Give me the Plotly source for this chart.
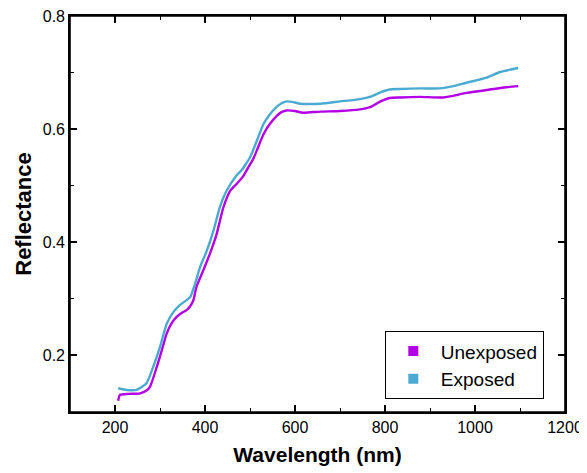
import plotly.graph_objects as go

# Unexposed (magenta) series
wl_unexp = [207, 211, 230, 256, 270, 278, 293, 304, 315, 326, 337, 348, 359, 367, 374, 381,
            396, 411, 426, 441, 456, 470, 485, 496, 507, 515, 530, 544, 559, 570, 581, 600,
            618, 656, 700, 744, 770, 790, 810, 833, 878, 930, 981, 1033, 1070, 1096]
r_unexp = [0.120, 0.130, 0.132, 0.133, 0.138, 0.145, 0.180, 0.209, 0.239, 0.257, 0.268, 0.275, 0.280, 0.287, 0.297, 0.321,
           0.350, 0.380, 0.415, 0.462, 0.491, 0.503, 0.517, 0.532, 0.547, 0.562, 0.591, 0.609, 0.623, 0.630, 0.633, 0.632,
           0.629, 0.631, 0.632, 0.635, 0.640, 0.649, 0.655, 0.656, 0.657, 0.656, 0.664, 0.670, 0.674, 0.676]

# Exposed (blue) series
wl_exp = [207, 226, 248, 270, 285, 300, 315, 330, 344, 356, 367, 378, 389, 404, 419, 433,
          448, 470, 482, 492, 500, 515, 530, 544, 563, 581, 600, 611, 656, 700, 744, 770,
          790, 810, 833, 880, 922, 952, 981, 1026, 1056, 1096]
r_exp = [0.142, 0.139, 0.139, 0.151, 0.180, 0.215, 0.256, 0.277, 0.289, 0.296, 0.303, 0.327, 0.356, 0.385, 0.421, 0.462,
         0.491, 0.518, 0.528, 0.540, 0.550, 0.579, 0.609, 0.626, 0.642, 0.649, 0.647, 0.645, 0.645, 0.649, 0.653, 0.658,
         0.665, 0.670, 0.671, 0.672, 0.672, 0.676, 0.682, 0.691, 0.701, 0.708]

x_ticks = [200, 400, 600, 800, 1000, 1200]
y_ticks = [0.2, 0.4, 0.6, 0.8]

c_unexp = "#B300E6"
c_exp = "#4BAAD2"
FONT = "Liberation Sans, Arial"

fig = go.Figure()
fig.add_trace(go.Scatter(x=wl_unexp, y=r_unexp, mode="lines", line=dict(color=c_unexp, width=2.4, shape="spline", smoothing=0.6),
                         showlegend=False))
fig.add_trace(go.Scatter(x=wl_exp, y=r_exp, mode="lines", line=dict(color=c_exp, width=2.4, shape="spline", smoothing=0.6),
                         showlegend=False))
fig.add_trace(go.Scatter(x=[None], y=[None], mode="markers", name="Unexposed",
                         marker=dict(symbol="square", size=10, color=c_unexp)))
fig.add_trace(go.Scatter(x=[None], y=[None], mode="markers", name="Exposed",
                         marker=dict(symbol="square", size=10, color=c_exp)))

axis_common = dict(showgrid=False, zeroline=False, showline=True, linecolor="black", linewidth=1.6,
                   mirror="allticks", ticks="inside", ticklen=7, tickwidth=1.5, tickcolor="black",
                   automargin=False, ticklabeloverflow="allow",
                   tickfont=dict(family=FONT, size=16, color="black"))

fig.update_xaxes(range=[100, 1200], tickvals=x_ticks,
                 minor=dict(tickvals=[300, 500, 700, 900, 1100], ticks="inside", ticklen=4, tickwidth=1.2, tickcolor="black"),
                 title=dict(text="<b>Wavelength (nm)</b>", font=dict(family=FONT, size=21, color="black"), standoff=12),
                 **axis_common)
fig.update_yaxes(range=[0.1, 0.8], tickvals=y_ticks, tickformat=".1f",
                 minor=dict(tickvals=[0.3, 0.5, 0.7], ticks="inside", ticklen=4, tickwidth=1.2, tickcolor="black"),
                 title=dict(text="<b>Reflectance</b>", font=dict(family=FONT, size=22, color="black"), standoff=5),
                 **axis_common)

# plot frame
fig.add_shape(type="rect", xref="paper", yref="paper", x0=0, y0=0, x1=1, y1=1,
              line=dict(color="black", width=1.6), layer="above")

fig.update_layout(
    width=587, height=473,
    margin=dict(l=62, r=30, t=8, b=69),
    plot_bgcolor="white", paper_bgcolor="white",
    legend=dict(x=0.636, y=0.118, xanchor="left", yanchor="middle",
                bordercolor="black", borderwidth=1, bgcolor="white",
                font=dict(family=FONT, size=19, color="black"),
                itemwidth=45, tracegroupgap=0),
)

fig.write_html("out.html")
